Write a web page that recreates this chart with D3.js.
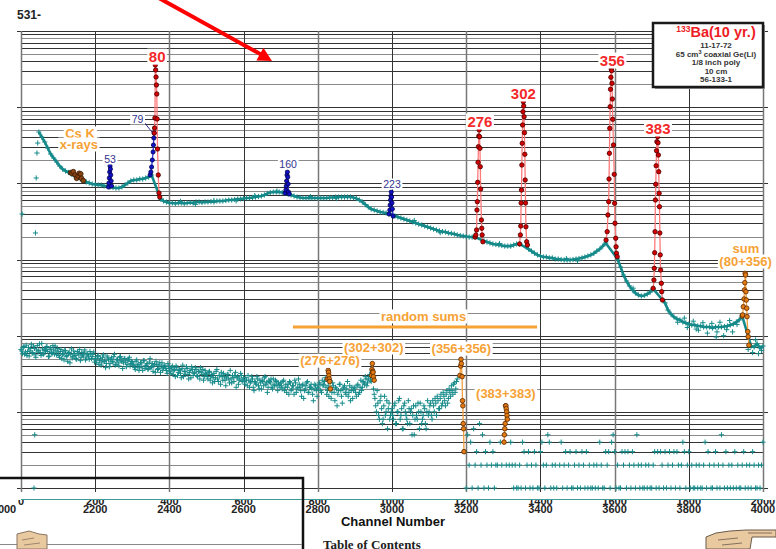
<!DOCTYPE html>
<html>
<head>
<meta charset="utf-8">
<script src="https://cdn.jsdelivr.net/npm/d3@7"></script>
<style>
  body { margin: 0; background: #fff; }
  svg { display: block; font-family: "Liberation Sans", Arial, sans-serif; }
</style>
</head>
<body>
<svg id="chart" width="776" height="549"></svg>
<script>
// ---- axis ticks ----
const channelTicks = [2000, 2200, 2400, 2600, 2800, 3000, 3200, 3400, 3600, 3800, 4000];
const offsetTickLabels = ['0', '200', '400', '600', '800', '1000', '1200', '1400', '1600', '1800', '2000'];
const channelTickLabels = ['2000', '2200', '2400', '2600', '2800', '3000', '3200', '3400', '3600', '3800', '4000'];

// ---- 133Ba spectrum, [channel, counts] ----
const spectrumEdge = [[2003, 3950], [2035, 1], [2037, 5], [2039, 2230], [2041, 11750], [2043, 25000], [2045, 33800]];

const spectrum = [
  [2048, 47200], [2056, 40550], [2064, 34870], [2072, 29090], [2080, 24260], [2088, 21500], [2096, 19100],
  [2104, 16880], [2112, 15420], [2120, 14510], [2128, 13870], [2136, 13260], [2144, 12480], [2152, 12110],
  [2160, 11400], [2168, 10900], [2176, 10410], [2184, 10100], [2192, 9800], [2200, 9650], [2208, 9510],
  [2216, 9510], [2224, 9220], [2232, 9220], [2240, 8950], [2248, 8810], [2256, 8680], [2264, 8680],
  [2272, 8950], [2280, 9510], [2288, 10100], [2296, 10730], [2304, 11060], [2312, 11060], [2320, 11400],
  [2328, 11400], [2336, 11750], [2344, 12110], [2352, 12860],
  [2376, 6230], [2384, 5860], [2392, 5690], [2400, 5520], [2408, 5520], [2416, 5440], [2424, 5520],
  [2432, 5520], [2440, 5440], [2448, 5520], [2456, 5600], [2464, 5520], [2472, 5690], [2480, 5690],
  [2488, 5600], [2496, 5690], [2504, 5690], [2512, 5770], [2520, 5690], [2528, 5860], [2536, 5860],
  [2544, 5860], [2552, 5950], [2560, 6040], [2568, 6040], [2576, 6130], [2584, 6230], [2592, 6230],
  [2600, 6320], [2608, 6420], [2616, 6420], [2624, 6510], [2632, 6610], [2640, 6710], [2648, 6820],
  [2656, 7030], [2664, 7350], [2672, 7570], [2680, 7690], [2688, 7690], [2696, 7690], [2704, 7570],
  [2712, 7460], [2720, 7240], [2728, 7030], [2736, 6820], [2744, 6610], [2752, 6510], [2760, 6420],
  [2768, 6420], [2776, 6420], [2784, 6420], [2792, 6420], [2800, 6420], [2808, 6420], [2816, 6420],
  [2824, 6420], [2832, 6510], [2840, 6510], [2848, 6610], [2856, 6610], [2864, 6610], [2872, 6610],
  [2880, 6610], [2888, 6610], [2896, 6510], [2904, 6320], [2912, 6040], [2920, 5690], [2928, 5270],
  [2936, 4890], [2944, 4600], [2952, 4460], [2960, 4330], [2968, 4200], [2976, 4140], [2984, 4080],
  [2992, 3960], [3000, 3840], [3008, 3720], [3016, 3610], [3024, 3500], [3032, 3400], [3040, 3300],
  [3048, 3200], [3056, 3110], [3064, 3010], [3072, 2920], [3080, 2840], [3088, 2750], [3096, 2670],
  [3104, 2590], [3112, 2510], [3120, 2440], [3128, 2370], [3136, 2330], [3144, 2300], [3152, 2230],
  [3160, 2200], [3168, 2160], [3176, 2100], [3184, 2060], [3192, 2030], [3200, 2000], [3208, 1970],
  [3216, 1970], [3224, 1970],
  [3248, 1750], [3256, 1700], [3264, 1650], [3272, 1600], [3280, 1575], [3288, 1550], [3296, 1525],
  [3304, 1500], [3312, 1500], [3320, 1500], [3328, 1550], [3336, 1600], [3344, 1600],
  [3368, 1370], [3376, 1290], [3384, 1210], [3392, 1150], [3400, 1110], [3408, 1080], [3416, 1080],
  [3424, 1050], [3432, 1050], [3440, 1015], [3448, 1015], [3456, 1000], [3464, 985], [3472, 985],
  [3480, 985], [3488, 1000], [3496, 1015], [3504, 1030], [3512, 1050], [3520, 1080], [3528, 1110],
  [3536, 1150], [3544, 1200], [3552, 1290], [3560, 1370], [3568, 1500], [3576, 1650],
  [3608, 1015], [3616, 797], [3624, 626], [3632, 522], [3640, 449], [3648, 398], [3656, 363],
  [3664, 342], [3672, 332], [3680, 337], [3688, 352], [3696, 374], [3704, 410],
  [3736, 269], [3744, 217], [3752, 192], [3760, 176], [3768, 166], [3776, 161], [3784, 151],
  [3792, 147], [3800, 142], [3808, 138], [3816, 138], [3824, 134], [3832, 134], [3840, 130],
  [3848, 130], [3856, 130], [3864, 126], [3872, 130], [3880, 130], [3888, 130], [3896, 132],
  [3904, 134], [3912, 138], [3920, 142], [3928, 151], [3936, 161], [3944, 181],
  [3968, 73], [3976, 71], [3984, 78], [3992, 69], [4000, 73]
];

const spectrumScatter = [
  [3770, 150], [3788, 170], [3796, 128], [3812, 155], [3820, 122], [3826, 118], [3838, 148],
  [3850, 108], [3862, 145], [3874, 96], [3876, 112], [3884, 150], [3894, 100], [3902, 120],
  [3910, 158], [3918, 112], [3930, 140], [3960, 66], [3972, 60], [3980, 88], [3988, 58], [3996, 64],
  [2430, 5800], [2470, 5300], [2520, 5950], [2580, 5900], [2630, 6900], [2690, 7900], [2780, 6700],
  [2850, 6300], [3060, 3250], [3130, 2250], [3290, 1620], [3470, 1030], [3500, 960], [3650, 420]
];

// ---- marked peaks, [channel, counts] ----
const peakCsK = [[2134, 13800], [2137, 13540], [2141, 14210], [2146, 12860], [2150, 11640],
  [2154, 12500], [2157, 13540], [2161, 13260], [2163, 11640], [2168, 10830]];
const peak53 = [[2236, 8950], [2237, 10100], [2238, 11750], [2239, 14080], [2240, 16880],
  [2241, 15420], [2242, 12860], [2243, 10730], [2244, 9220]];
const peak79 = [[2348, 12860], [2350, 14080], [2352, 16380], [2354, 20240], [2356, 25780],
  [2357, 31850], [2358, 39360], [2359, 45770]];
const peak80 = [[2359, 45770], [2360, 53250], [2361, 72000], [2362, 357700], [2363, 307500],
  [2364, 248800], [2365, 195400], [2366, 148800], [2367, 69900], [2368, 28220], [2370, 12860],
  [2372, 7460], [2374, 6610]];
const peak160 = [[2712, 7460], [2714, 8170], [2715, 9220], [2716, 10730], [2717, 12860],
  [2718, 14080], [2719, 12110], [2720, 9800], [2721, 7690], [2723, 7240]];
const peak223 = [[2992, 3960], [2994, 4460], [2995, 5190], [2996, 6040], [2997, 6820],
  [2998, 7690], [2999, 6610], [3000, 5520], [3001, 4600], [3003, 3720]];
const peak276 = [[3224, 1970], [3226, 2100], [3228, 2440], [3229, 4460], [3230, 5740], [3231, 10310],
  [3232, 18880], [3233, 30250], [3234, 41810], [3235, 50100], [3236, 40930], [3237, 28830],
  [3238, 16530], [3239, 8420], [3241, 3300], [3242, 2570], [3243, 2100], [3245, 1710]];
const peak302 = [[3344, 1600], [3346, 2100], [3347, 2750], [3348, 5520], [3349, 8170], [3350, 17400],
  [3351, 33540], [3352, 58310], [3353, 87170], [3354, 117900], [3355, 103500], [3356, 74930],
  [3357, 46200], [3358, 24050], [3359, 11060], [3360, 5520], [3361, 2690], [3363, 1710], [3365, 1550]];
const peak356 = [[3577, 1800], [3580, 2320], [3582, 3840], [3584, 5740], [3585, 11400], [3586, 24790],
  [3587, 52780], [3588, 101400], [3589, 171600], [3590, 246600], [3591, 316800], [3592, 301000],
  [3593, 205700], [3594, 127900], [3595, 69260], [3597, 31850], [3599, 13130], [3600, 5470],
  [3601, 2990], [3603, 1900], [3604, 1470], [3605, 1210], [3607, 1090]];
const peak383 = [[3704, 418], [3706, 538], [3707, 766], [3708, 1227], [3709, 2317], [3710, 6040],
  [3711, 9710], [3712, 17030], [3713, 26810], [3714, 35200], [3716, 40930], [3717, 34160],
  [3718, 23540], [3719, 14210], [3720, 7400], [3721, 4930], [3722, 2230], [3723, 1150], [3724, 728],
  [3726, 487], [3727, 378], [3729, 294]];
const peakSum80356 = [[3944, 181], [3945, 187], [3947, 240], [3949, 303], [3950, 398], [3951, 496],
  [3952, 658], [3953, 626], [3954, 378], [3955, 294], [3956, 229], [3957, 178], [3959, 113],
  [3960, 97], [3962, 75]];

// ---- random-sum spectrum: counts every 4 channels from 2000, and from 2002 ----
const randomSumStep = 4;
const randomSumStartA = 2000;
const randomSumsA = [
  66, 58, 72, 61, 55, 70, 63, 77, 59, 68, 52, 74, 64, 60, 79, 57, 66, 71, 62, 54, 69, 58, 65, 73, 56,
  61, 52, 66, 57, 48, 63, 55, 59, 44, 67, 53, 58, 50, 62, 56, 47, 60, 54, 65, 51, 57, 49, 58, 53, 61,
  50, 44, 55, 47, 41, 52, 46, 38, 54, 48, 43, 51, 45, 57, 42, 49, 40, 53, 46, 44, 50, 39, 47, 52, 43,
  45, 41, 36, 48, 42, 38, 44, 35, 47, 40, 43, 37, 50, 39, 34, 42, 46, 36, 41, 33, 44, 38, 40, 35, 43,
  37, 32, 40, 35, 29, 38, 33, 36, 28, 41, 34, 31, 37, 27, 35, 39, 30, 33, 36, 29, 34, 38, 31, 26, 35,
  31, 27, 34, 29, 24, 32, 28, 36, 25, 30, 33, 26, 29, 22, 31, 27, 35, 24, 28, 30, 21, 29, 26, 32, 25,
  28, 23, 26, 30, 21, 25, 27, 19, 24, 29, 22, 26, 20, 25, 28, 23, 18, 26, 24, 21, 27, 22, 25, 19, 23,
  24, 20, 26, 21, 18, 23, 25, 19, 22, 17, 24, 20, 27, 21, 16, 23, 19, 22, 25, 18, 21, 20, 14, 23, 19,
  21, 24, 19, 26, 23, 28, 17, 22, 20, 15, 24, 18, 21, 12, 19, 23, 16, 20, 22, 17, 25, 18, 14, 21, 19,
  20, 16, 23, 18, 26, 21, 24, 29, 22, 27, 31, 25, 28, 17, 12, 19, 9, 14, 11, 8, 16, 10, 6, 13, 9,
  11, 8, 13, 7, 10, 15, 9, 6, 12, 10, 8, 14, 7, 11, 9, 5, 12, 8, 10, 13, 7, 9, 11, 6, 14,
  10, 13, 8, 12, 15, 9, 14, 11, 17, 13, 16, 12, 19, 15, 18, 22, 17, 24, 20, 27
];
const randomSumStartB = 2002;
const randomSumsB = [
  63, 70, 57, 75, 62, 54, 68, 60, 73, 56, 65, 61, 78, 55, 67, 59, 64, 72, 53, 66, 60, 74, 57, 63, 68,
  55, 62, 50, 58, 64, 53, 46, 60, 57, 51, 63, 55, 49, 59, 66, 52, 56, 61, 48, 58, 54, 62, 50, 57, 45,
  48, 53, 42, 50, 45, 56, 47, 43, 51, 39, 49, 46, 53, 41, 48, 44, 52, 47, 37, 50, 45, 42, 49, 40, 46,
  42, 38, 46, 40, 35, 44, 39, 47, 37, 41, 36, 45, 38, 43, 40, 33, 42, 37, 44, 39, 35, 41, 37, 32, 39,
  34, 38, 31, 36, 40, 30, 35, 32, 37, 29, 34, 39, 31, 33, 28, 36, 32, 38, 30, 34, 27, 33, 36, 29, 32,
  29, 33, 26, 31, 28, 25, 34, 27, 30, 23, 29, 32, 26, 28, 31, 24, 27, 30, 25, 33, 28, 23, 27, 30, 26,
  25, 28, 22, 26, 24, 29, 21, 25, 23, 27, 20, 24, 26, 22, 29, 24, 21, 25, 27, 20, 23, 26, 22, 24, 21,
  22, 25, 19, 23, 21, 17, 24, 20, 22, 26, 18, 21, 23, 19, 22, 15, 20, 24, 18, 21, 23, 17, 20, 22, 16,
  20, 23, 18, 22, 25, 21, 19, 16, 21, 18, 22, 14, 20, 17, 23, 19, 13, 21, 18, 20, 16, 22, 19, 15, 21,
  18, 22, 17, 21, 19, 25, 23, 27, 24, 29, 26, 33, 20, 15, 10, 13, 8, 16, 7, 12, 9, 14, 11, 8, 10,
  9, 12, 7, 10, 14, 8, 11, 6, 13, 9, 7, 11, 10, 5, 12, 8, 9, 13, 6, 10, 8, 12, 7, 10, 9,
  12, 9, 14, 10, 13, 16, 11, 15, 12, 18, 14, 17, 13, 20, 16, 19, 23, 18, 25
];

// low-count tail above channel 3196, counts every 4 channels (0 = empty)
const tailStart = 3196;
const tailStep = 4;
const tailCounts = [
  3, 1, 5, 2, 4, 1, 6, 2, 3, 1, 7, 2, 5, 1, 3, 2, 1, 4, 2, 3, 1, 2,
  2, 0, 4, 2, 0, 5, 2, 0, 2, 4, 2,
  1, 2, 1, 1, 2, 1, 4, 3, 1, 2, 3, 1, 2, 1, 3, 2, 1, 1, 3, 4, 2, 1, 2, 5, 4, 1, 2, 1, 2, 1, 0, 2,
  4, 1, 2, 3, 1, 2, 3, 1, 1, 2, 3, 1, 2, 1, 3, 2, 1, 3, 1, 2, 1, 1, 2, 1, 2, 1, 4,
  2, 1, 1, 3, 2, 3, 1, 4, 5, 3, 1, 2, 1, 1, 3, 2, 3, 1, 3, 2, 1, 3, 2, 1, 5, 2, 1, 2, 1, 1, 2, 1, 2, 1, 1, 2, 3, 1, 3,
  1, 3, 2, 1, 3, 1, 2, 3, 1, 2, 3, 1, 3, 2, 1, 2, 4, 3, 1, 2, 3, 1, 2, 1, 1, 2, 1, 2, 1,
  1, 2, 4, 1, 3, 2, 1, 1, 2, 3, 1, 2, 1, 5, 2, 1, 3, 1, 2, 1, 2, 1, 3, 1, 2, 1, 1, 2, 3, 1, 2, 1, 2, 1, 3, 2, 1, 1, 2, 1, 2, 4
];

// random-sum peaks
const rsum276 = [[2826, 27], [2828, 35], [2829, 33], [2830, 30], [2831, 27], [2832, 25], [2834, 20]];
const rsum302 = [[2945, 30], [2946, 36], [2947, 43], [2948, 34], [2949, 33], [2950, 29], [2952, 26]];
const rsum356 = [[3183, 30], [3185, 40], [3186, 49], [3187, 43], [3189, 29], [3190, 14], [3191, 12],
  [3192, 7], [3193, 6], [3194, 3]];
const rsum383 = [[3302, 4], [3303, 5], [3304, 6], [3305, 7], [3306, 12], [3307, 12], [3308, 11],
  [3309, 10], [3310, 9], [3311, 8]];

// annotations, anchored in data units
const energyLabels = [
  { text: '80', ch: 2367, counts: 390000, major: true },
  { text: '276', ch: 3237, counts: 54900, major: true },
  { text: '302', ch: 3354, counts: 128000, major: true },
  { text: '356', ch: 3594, counts: 347000, major: true },
  { text: '383', ch: 3717, counts: 44400, major: true },
  { text: '79', ch: 2314, counts: 62000, major: false },
  { text: '53', ch: 2240, counts: 18500, major: false },
  { text: '160', ch: 2720, counts: 15900, major: false },
  { text: '223', ch: 3000, counts: 8680, major: false }
];
const sumLabels = [
  { text: 'Cs K', ch: 2159, counts: 39400 },
  { text: 'x-rays', ch: 2156, counts: 28200 },
  { text: 'sum', ch: 3954, counts: 1217 },
  { text: '(80+356)', ch: 3953, counts: 821 },
  { text: 'random sums', ch: 3085, counts: 156 },
  { text: '(276+276)', ch: 2833, counts: 41 },
  { text: '(302+302)', ch: 2951, counts: 61 },
  { text: '(356+356)', ch: 3187, counts: 59 },
  { text: '(383+383)', ch: 3307, counts: 15.2 }
];
const randomSumBar = [[2733, 130], [3391, 130]];
const leader79 = [[2329, 66000], [2354, 46500]];

// ---- scales ----
const svg = d3.select('#chart');
const x = d3.scaleLinear().domain([2000, 4000]).range([21, 763]);
const y = d3.scaleLog().domain([1, 1e6]).range([488, 31]);

const teal = '#168a8a';
const orange = '#f6a235';

const isDecade = d => Math.abs(Math.log10(d) - Math.round(Math.log10(d))) < 1e-9;
const snap = v => Math.round(v) + 0.5;

// grid
const grid = svg.append('g');
grid.selectAll('line.h').data(y.ticks()).join('line')
  .attr('class', 'h')
  .attr('x1', d => isDecade(d) ? 17 : 21)
  .attr('x2', d => isDecade(d) ? 768 : 763)
  .attr('y1', d => snap(y(d))).attr('y2', d => snap(y(d)))
  .attr('stroke', (d, i) => i % 3 === 1 ? '#8a8a8a' : '#333')
  .attr('stroke-width', 1);

grid.selectAll('line.v').data(channelTicks).join('line')
  .attr('class', 'v')
  .attr('x1', d => snap(x(d))).attr('x2', d => snap(x(d)))
  .attr('y1', y(1e6)).attr('y2', 492)
  .attr('stroke', (d, i) => i % 2 ? '#333' : '#777')
  .attr('stroke-width', (d, i) => i % 2 ? 1 : 1.5);

// teal rule under the plot
svg.append('line')
  .attr('x1', x(2000)).attr('x2', x(4000)).attr('y1', 499.5).attr('y2', 499.5)
  .attr('stroke', '#3f9a9a').attr('stroke-width', 1);

// tick labels: channel offset row (partly hidden) and channel row
svg.append('clipPath').attr('id', 'topRow')
  .append('rect').attr('x', 0).attr('y', 500).attr('width', 776).attr('height', 6);

svg.append('g').attr('clip-path', 'url(#topRow)')
  .selectAll('text').data(channelTicks).join('text')
  .attr('x', d => x(d)).attr('y', 505)
  .attr('text-anchor', 'middle')
  .attr('font-size', 11).attr('font-weight', 'bold').attr('fill', '#222')
  .text((d, i) => offsetTickLabels[i]);

svg.append('g')
  .selectAll('text').data(channelTicks).join('text')
  .attr('x', (d, i) => i === 0 ? x(d) - 17 : x(d)).attr('y', 512.5)
  .attr('text-anchor', 'middle')
  .attr('font-size', 11).attr('font-weight', 'bold').attr('fill', '#222')
  .text((d, i) => channelTickLabels[i]);

svg.append('text')
  .attr('x', 393).attr('y', 526)
  .attr('text-anchor', 'middle')
  .attr('font-size', 13).attr('font-weight', 'bold').attr('fill', '#111')
  .text('Channel Number');

// ---- data ----
const plot = svg.append('g');

function crosses(data, size, color) {
  plot.append('g').selectAll('path').data(data).join('path')
    .attr('d', d => `M${x(d[0]) - size},${y(d[1])}h${2 * size}M${x(d[0])},${y(d[1]) - size}v${2 * size}`)
    .attr('stroke', color).attr('stroke-width', 1).attr('fill', 'none');
}

const line = d3.line().x(d => x(d[0])).y(d => y(d[1]));

function markedPeak(data, lineColor, fill, outline, r) {
  const g = plot.append('g');
  g.append('path').datum(data).attr('d', line)
    .attr('fill', 'none').attr('stroke', lineColor).attr('stroke-width', 1.3);
  g.selectAll('circle').data(data).join('circle')
    .attr('cx', d => x(d[0])).attr('cy', d => y(d[1])).attr('r', r)
    .attr('fill', fill).attr('stroke', outline).attr('stroke-width', 0.8);
}

// random sums (lower spectrum)
const lowerPoints = randomSumsA.map((c, i) => [randomSumStartA + i * randomSumStep, c])
  .concat(randomSumsB.map((c, i) => [randomSumStartB + i * randomSumStep, c]));
const tailPoints = tailCounts
  .map((c, i) => [tailStart + i * tailStep, c])
  .filter(d => d[1] > 0);
crosses(lowerPoints, 2.6, teal);
crosses(tailPoints, 2.6, teal);

// upper spectrum
plot.append('path').datum(spectrum).attr('d', line)
  .attr('fill', 'none').attr('stroke', teal).attr('stroke-width', 2.6);
crosses(spectrum, 2.6, teal);
crosses(spectrumEdge, 2.6, teal);
crosses(spectrumScatter, 2.6, teal);

// peaks
const red = ['#ff7a7a', '#d40000', '#4a0000'];
const blue = ['#3a3ae0', '#1010c8', '#000050'];
const orng = ['#f3a040', '#e47a12', '#5a2a00'];
markedPeak(peakCsK, '#8b4a1a', '#8b4513', '#3a1a00', 2.4);
markedPeak(peak53, ...blue, 2.1);
markedPeak(peak79, ...blue, 2.1);
markedPeak(peak80, ...red, 2.2);
markedPeak(peak160, ...blue, 2.1);
markedPeak(peak223, ...blue, 2.1);
markedPeak(peak276, ...red, 2.2);
markedPeak(peak302, ...red, 2.2);
markedPeak(peak356, ...red, 2.2);
markedPeak(peak383, ...red, 2.2);
markedPeak(peakSum80356, ...orng, 2.3);
markedPeak(rsum276, ...orng, 2.3);
markedPeak(rsum302, ...orng, 2.3);
markedPeak(rsum356, ...orng, 2.3);
markedPeak(rsum383, ...orng, 2.3);

// random sums bar
plot.append('path').datum(randomSumBar).attr('d', line)
  .attr('stroke', orange).attr('stroke-width', 3).attr('fill', 'none');

// 79 leader
plot.append('path').datum(leader79).attr('d', line)
  .attr('stroke', '#33338f').attr('stroke-width', 1).attr('fill', 'none');

// labels sit on small white boxes
function boxedLabel(parent, d, size, weight, color) {
  const g = parent.append('g');
  const t = g.append('text')
    .attr('x', x(d.ch)).attr('y', y(d.counts))
    .attr('text-anchor', 'middle')
    .attr('font-size', size).attr('font-weight', weight)
    .attr('fill', color)
    .text(d.text);
  const b = t.node().getBBox();
  g.insert('rect', 'text')
    .attr('x', b.x - 1.5).attr('y', b.y + 0.5)
    .attr('width', b.width + 3).attr('height', b.height - 1)
    .attr('fill', '#fff');
}
const labels = svg.append('g');
energyLabels.forEach(d => boxedLabel(labels, d, d.major ? 15 : 10.5,
  d.major ? 'bold' : 'normal', d.major ? '#f42a2a' : '#33338f'));
sumLabels.forEach(d => boxedLabel(labels, d, 13, 'bold', orange));

// ---- legend box ----
const lg = svg.append('g');
lg.append('rect').attr('x', 655).attr('y', 25).attr('width', 110).attr('height', 64).attr('fill', '#999');
lg.append('rect').attr('x', 653).attr('y', 23).attr('width', 110).attr('height', 64)
  .attr('fill', '#fff').attr('stroke', '#1a1a1a').attr('stroke-width', 2.5);
const title = lg.append('text').attr('x', 716).attr('y', 37).attr('text-anchor', 'middle')
  .attr('fill', '#ee1c24').attr('font-weight', 'bold');
title.append('tspan').attr('font-size', 8.5).attr('dy', -5).text('133');
title.append('tspan').attr('font-size', 14.5).attr('dy', 5).text('Ba(10 yr.)');

const info = ['11-17-72', null, '1/8 inch poly', '10 cm', '56-133-1'];
info.forEach((t, i) => {
  const tx = lg.append('text').attr('x', 716).attr('y', 48 + i * 8.5)
    .attr('text-anchor', 'middle').attr('font-size', 8).attr('font-weight', 'bold').attr('fill', '#333');
  if (t) tx.text(t);
  else {
    tx.append('tspan').text('65 cm');
    tx.append('tspan').attr('font-size', 5.5).attr('dy', -3).text('3');
    tx.append('tspan').attr('dy', 3).text(' coaxial Ge(Li)');
  }
});

// ---- page bits around the chart ----
svg.append('text').attr('x', 17).attr('y', 18.5)
  .attr('font-size', 12).attr('font-weight', 'bold').attr('fill', '#222').text('531-');

svg.append('line').attr('x1', 157).attr('y1', -3).attr('x2', 262).attr('y2', 55)
  .attr('stroke', '#ff0000').attr('stroke-width', 4);
svg.append('path').attr('d', 'M272,61L256.4,60.6L263.4,47.8Z').attr('fill', '#ff0000');

svg.append('path').attr('d', 'M-2,478H303V556')
  .attr('fill', 'none').attr('stroke', '#111').attr('stroke-width', 2.5);
svg.append('line').attr('x1', 0).attr('x2', 302).attr('y1', 544.5).attr('y2', 544.5)
  .attr('stroke', '#888').attr('stroke-width', 1);

svg.append('path').attr('d', 'M17,534L29,531L39,534L47,535V549H17Z')
  .attr('fill', '#e9c9a0').attr('stroke', '#8a7560').attr('stroke-width', 1);
svg.append('path').attr('d', 'M22,540L34,538M24,545L40,543')
  .attr('fill', 'none').attr('stroke', '#8a7560').attr('stroke-width', 0.8);

svg.append('path').attr('d', 'M706,537L716,533L730,531L746,530H776V537H752L750,549H706Z')
  .attr('fill', '#e9c9a0').attr('stroke', '#6a5a4a').attr('stroke-width', 1);
svg.append('path').attr('d', 'M718,540L738,538M722,545L742,543M748,533H772')
  .attr('fill', 'none').attr('stroke', '#6a5a4a').attr('stroke-width', 0.8);

svg.append('text').attr('x', 323).attr('y', 549)
  .attr('font-family', '"Liberation Serif", "Times New Roman", serif')
  .attr('font-size', 13).attr('font-weight', 'bold').attr('fill', '#222')
  .text('Table of Contents');
</script>
</body>
</html>
